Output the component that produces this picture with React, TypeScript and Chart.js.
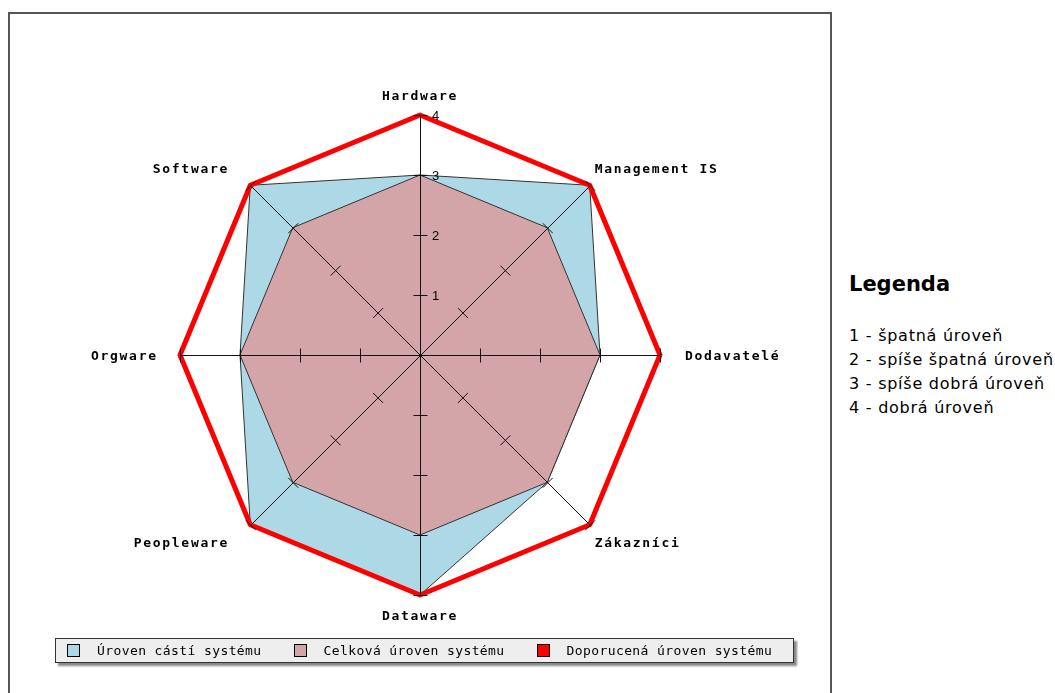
import React, { useEffect, useRef } from "react";
import { Chart, registerables } from "chart.js";

Chart.register(...registerables);

const categories = ["Hardware", "Management IS", "Dodavatelé", "Zákazníci", "Dataware", "Peopleware", "Orgware", "Software"];
const castiValues = [3, 4, 3, 3, 4, 4, 3, 4];
const celkovaValues = [3, 3, 3, 3, 3, 3, 3, 3];
const doporucenaValues = [4, 4, 4, 4, 4, 4, 4, 4];
const tickValues = [1, 2, 3, 4];
const seriesNames = ["Úroven cástí systému", "Celková úroven systému", "Doporucená úroven systému"];
const seriesColors = ["#add8e6", "#d4a5a8", "#ff0000"];
const scaleLegendItems = ["1 - špatná úroveň", "2 - spíše špatná úroveň", "3 - spíše dobrá úroveň", "4 - dobrá úroveň"];

const overlayPlugin = {
  id: "jpgraphOverlay",
  afterDatasetsDraw(chart: any) {
    const scale = chart.scales.r;
    const ctx = chart.ctx;
    const n = categories.length;
    const maxV = tickValues[tickValues.length - 1];
    ctx.save();
    // spokes
    ctx.strokeStyle = "#111";
    ctx.lineWidth = 1;
    for (let i = 0; i < n; i++) {
      const c = scale.getPointPositionForValue(i, 0);
      const p = scale.getPointPositionForValue(i, maxV);
      ctx.beginPath();
      ctx.moveTo(c.x + 0.5, c.y + 0.5);
      ctx.lineTo(p.x + 0.5, p.y + 0.5);
      ctx.stroke();
      const ang = scale.getIndexAngle(i) - Math.PI / 2;
      const px = -Math.sin(ang);
      const py = Math.cos(ang);
      for (const v of tickValues) {
        const t = scale.getPointPositionForValue(i, v);
        ctx.beginPath();
        ctx.moveTo(t.x - px * 7 + 0.5, t.y - py * 7 + 0.5);
        ctx.lineTo(t.x + px * 7 + 0.5, t.y + py * 7 + 0.5);
        ctx.stroke();
      }
    }
    // tick labels on first spoke
    ctx.fillStyle = "#000";
    ctx.font = "13px 'Liberation Sans', Arial, sans-serif";
    ctx.textAlign = "left";
    ctx.textBaseline = "middle";
    for (const v of tickValues) {
      const t = scale.getPointPositionForValue(0, v);
      ctx.fillText(String(v), t.x + 12, t.y + 1);
    }
    // point labels
    ctx.font = "bold 13px 'DejaVu Sans Mono', monospace";
    ctx.textBaseline = "middle";
    (ctx as any).letterSpacing = "1.7px";
    for (let i = 0; i < n; i++) {
      const p = scale.getPointPositionForValue(i, maxV);
      const ang = scale.getIndexAngle(i) - Math.PI / 2;
      const c = Math.cos(ang);
      const s = Math.sin(ang);
      const diag = Math.abs(c) > 0.1 && Math.abs(s) > 0.1;
      let x = p.x;
      let y = p.y;
      let align: CanvasTextAlign = "center";
      if (c > 0.1) {
        align = "left";
        x = p.x + (diag ? 5 : 25);
      } else if (c < -0.1) {
        align = "right";
        x = p.x - (diag ? 23 : 24);
      }
      if (Math.abs(s) > 0.1) {
        y = p.y + Math.sign(s) * (diag ? 17.5 : 20);
      }
      ctx.textAlign = align;
      ctx.fillText(categories[i], x + (align === "right" ? 1.7 : 0), y + 1.5);
    }
    ctx.restore();
  },
};

export default function App() {
  const canvasRef = useRef<HTMLCanvasElement>(null);

  useEffect(() => {
    if (!canvasRef.current) return;
    const chart = new Chart(canvasRef.current, {
      type: "radar",
      data: {
        labels: categories,
        datasets: [
          {
            label: seriesNames[0],
            data: castiValues,
            backgroundColor: seriesColors[0],
            borderColor: "#333",
            borderWidth: 1,
            fill: true,
            pointRadius: 0,
            order: 2,
          },
          {
            label: seriesNames[1],
            data: celkovaValues,
            backgroundColor: seriesColors[1],
            borderColor: "#333",
            borderWidth: 1,
            fill: true,
            pointRadius: 0,
            order: 1,
          },
          {
            label: seriesNames[2],
            data: doporucenaValues,
            borderColor: seriesColors[2],
            backgroundColor: "transparent",
            borderWidth: 5,
            borderJoinStyle: "round",
            fill: false,
            pointRadius: 0,
            order: 0,
          },
        ],
      },
      options: {
        responsive: false,
        animation: false,
        layout: { padding: { left: 170, right: 169, top: 101, bottom: 98 } },
        plugins: { legend: { display: false }, tooltip: { enabled: false }, title: { display: false } },
        scales: {
          r: {
            min: 0,
            max: 4,
            ticks: { display: false, stepSize: 1 },
            grid: { display: false },
            angleLines: { display: false },
            pointLabels: { display: false },
          },
        },
      } as any,
      plugins: [overlayPlugin],
    });
    return () => chart.destroy();
  }, []);

  return (
    <div>
      <div
        style={{
          position: "absolute",
          left: 8,
          top: 12,
          width: 820,
          height: 700,
          border: "2px solid #555",
          background: "#fff",
        }}
      />
      <canvas
        ref={canvasRef}
        width={819}
        height={679}
        style={{ position: "absolute", left: 10, top: 14, width: 819, height: 679 }}
      />
      <div
        style={{
          position: "absolute",
          left: 55,
          top: 638,
          width: 726,
          height: 23,
          border: "1px solid #333",
          background: "#eeeeee",
          boxShadow: "3px 3px 2px #888",
          display: "flex",
          alignItems: "center",
          paddingLeft: 11,
          boxSizing: "content-box",
          fontFamily: "'DejaVu Sans Mono', monospace",
          fontSize: 13,
          letterSpacing: "0.4px",
          color: "#000",
        }}
      >
        {seriesNames.map((name, i) => (
          <div key={name} style={{ display: "flex", alignItems: "center", marginRight: 32 }}>
            <span
              style={{
                display: "inline-block",
                width: 11,
                height: 11,
                border: "1px solid #000",
                background: seriesColors[i],
                marginRight: 17,
              }}
            />
            <span style={{ whiteSpace: "nowrap" }}>{name}</span>
          </div>
        ))}
      </div>
      <div
        style={{
          position: "absolute",
          left: 849,
          top: 271,
          fontFamily: "'DejaVu Sans', Verdana, sans-serif",
          color: "#000",
          whiteSpace: "nowrap",
        }}
      >
        <div style={{ fontSize: 21, fontWeight: "bold", lineHeight: "26px" }}>Legenda</div>
        <div style={{ marginTop: 27, fontSize: 16, lineHeight: "24px", letterSpacing: "0.75px" }}>
          {scaleLegendItems.map((t) => (
            <div key={t}>{t}</div>
          ))}
        </div>
      </div>
    </div>
  );
}
